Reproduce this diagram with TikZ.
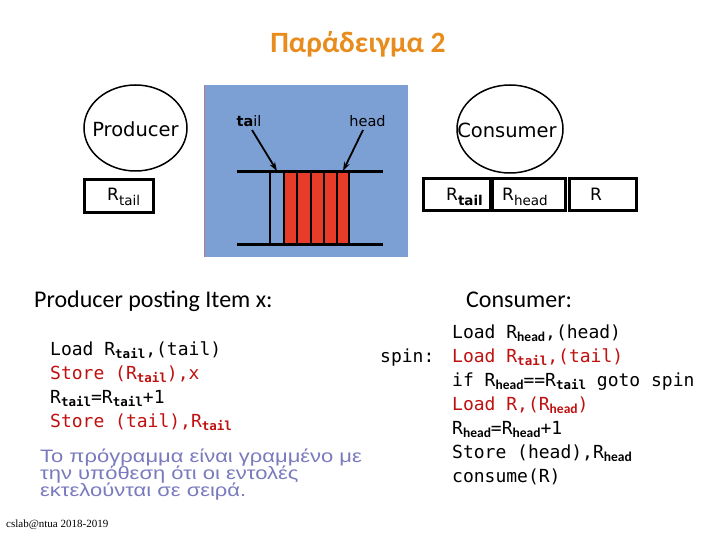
\documentclass[tikz,border=0pt]{standalone}
\usepackage{fontspec}
\setmainfont{Carlito}
\setmonofont{DejaVu Sans Mono}
\newfontfamily\djv{DejaVu Sans}
\newfontfamily\grk[FakeStretch=1.22]{Liberation Sans}
\newfontfamily\ftr{Liberation Serif}
\usetikzlibrary{arrows.meta,shapes.geometric}
\definecolor{bluebg}{RGB}{124,160,212}
\definecolor{cellred}{RGB}{232,60,42}
\definecolor{titleor}{RGB}{232,140,30}
\definecolor{codered}{RGB}{192,16,16}
\definecolor{grktxt}{RGB}{122,122,190}
\newcommand\sbt[1]{\raisebox{-0.35ex}{\fontsize{12.5}{12.5}\selectfont\bfseries #1}}
\newcommand\sbh[1]{\raisebox{-0.35ex}{\fontsize{13.5}{13.5}\selectfont\rmfamily\bfseries #1}}
\newcommand\bsub[1]{\raisebox{-5pt}{\fontsize{13.5}{13.5}\selectfont #1}}
\tikzset{
  proclbl/.style={inner sep=0pt, font=\djv\fontsize{19.5}{19.5}\selectfont},
  procshape/.style={line width=1.5pt},
  regbox/.style={draw, line width=3pt, inner sep=0pt},
  reglbl/.style={anchor=base west, inner sep=0pt, font=\djv\fontsize{17}{17}\selectfont},
  code/.style={anchor=base west, inner sep=0pt, font=\ttfamily\fontsize{18}{18}\selectfont},
  hdr/.style={anchor=base west, inner sep=0pt, font=\fontsize{24}{24}\selectfont},
  note/.style={anchor=base west, inner sep=0pt, text=grktxt, font=\grk\fontsize{18}{18}\selectfont},
  ptr/.style={line width=1.8pt, -{Stealth[length=9pt,width=6pt]}},
  rail/.style={line width=3pt},
}
\begin{document}
\begin{tikzpicture}[x=1pt,y=-1pt]
\useasboundingbox[fill=white] (0,0) rectangle (720,540);
% title
\node[anchor=base, inner sep=0pt, text=titleor, font=\bfseries\fontsize{29.5}{29.5}\selectfont] (title) at (358,53) {Παράδειγμα 2};
% producer
\node[proclbl] (prod) at (135.5,129) {Producer};
\draw[procshape] (135.5,128) ellipse [x radius=51.5, y radius=43];
\node[regbox, minimum width=69pt, minimum height=33pt] (prt) at (119,196) {};
\node[reglbl] (prtl) at (107,201) {R\bsub{tail}};
% queue picture
\fill[bluebg] (204,85) rectangle (408,257);
\draw[line width=0.5pt, draw={rgb,255:red,180;green,120;blue,150}] (204,257) -- (204,85);
\foreach \a/\b in {284/297.3,297.3/310.7,310.7/324,324/337.3,337.3/349.3}{
  \fill[cellred] (\a,172) rectangle (\b,244);
  \draw[line width=2pt] (\a,172) -- (\a,244);
}
\draw[line width=2pt] (349.3,172) -- (349.3,244);
\draw[line width=2pt] (270,172) -- (270,244);
\draw[rail] (237,172) -- (383,172);
\draw[rail] (237,244) -- (383,244);
\node[anchor=base, inner sep=0pt, font=\djv\fontsize{14.5}{14.5}\selectfont] (tl) at (249,127) {\textbf{ta}il};
\node[anchor=base, inner sep=0pt, font=\djv\fontsize{14.5}{14.5}\selectfont] (hd) at (367.5,127) {head};
\coordinate (tailpt) at (277,171);
\coordinate (headpt) at (343,171);
\draw[ptr] (252,130) -- (tailpt);
\draw[ptr] (363,130) -- (headpt);
% consumer
\node[proclbl] (cons) at (507,130) {Consumer};
\draw[procshape] (510,129) ellipse [x radius=53, y radius=44];
\node[regbox, minimum width=67pt, minimum height=32pt] (crt) at (457,194.5) {};
\node[regbox, minimum width=73pt, minimum height=32pt] (crh) at (528.5,194.5) {};
\node[regbox, minimum width=67pt, minimum height=32pt] (cr) at (603,194.5) {};
\node[reglbl] (crtl) at (446,201) {R\bsub{\bfseries tail}};
\node[reglbl] (crhl) at (502,201) {R\bsub{head}};
\node[reglbl] (crl) at (590,201) {R};
% producer code
\node[hdr] (ph) at (34,307) {Producer posting Item x:};
\node[code] (p1) at (50,355) {Load R\sbt{tail},(tail)};
\node[code, text=codered] (p2) at (50,379) {Store (R\sbt{tail}),x};
\node[code] (p3) at (50,403) {R\sbt{tail}=R\sbt{tail}+1};
\node[code, text=codered] (p4) at (50,427) {Store (tail),R\sbt{tail}};
% consumer code
\node[hdr] (ch) at (466,307) {Consumer:};
\node[code] (c1) at (452,338) {Load R\sbh{head},(head)};
\node[code] (spin) at (380,362) {spin:};
\node[code, text=codered] (c2) at (452,362) {Load R\sbt{tail},(tail)};
\node[code] (c3) at (452,386) {if R\sbh{head}==R\sbt{tail} goto spin};
\node[code, text=codered] (c4) at (452,410) {Load R,(R\sbh{head})};
\node[code] (c5) at (452,434) {R\sbh{head}=R\sbh{head}+1};
\node[code] (c6) at (452,458) {Store (head),R\sbh{head}};
\node[code] (c7) at (452,482) {consume(R)};
% greek note
\node[note] (note1) at (40,462.5) {Το πρόγραμμα είναι γραμμένο με};
\node[note] (note2) at (40,479.5) {την υπόθεση ότι οι εντολές};
\node[note] (note3) at (40,496.5) {εκτελούνται σε σειρά.};
% footer
\node[anchor=base west, inner sep=0pt, font=\ftr\fontsize{11}{11}\selectfont] (foot) at (6,527) {cslab@ntua 2018-2019};
\end{tikzpicture}
\end{document}
